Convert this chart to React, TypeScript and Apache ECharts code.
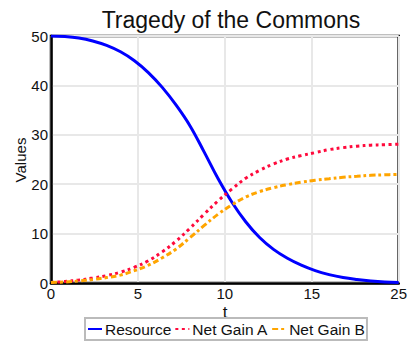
import React, { useEffect, useRef } from "react";
import * as echarts from "echarts";

const tValues = [0, 1, 2, 3, 4, 5, 6, 7, 8, 9, 10, 11, 12, 13, 14, 15, 16, 17, 18, 19, 20, 21, 22, 23, 24, 25];
const resource = [50, 49.9, 49.6, 49.0, 48.1, 46.8, 45.0, 42.6, 39.6, 36.0, 31.8, 26.6, 21.2, 16.4, 12.4, 9.2, 6.8, 5.0, 3.6, 2.5, 1.7, 1.1, 0.7, 0.4, 0.2, 0.1];
const netGainA = [0.1, 0.3, 0.6, 1.0, 1.5, 2.2, 3.2, 4.5, 6.3, 8.5, 11.1, 13.9, 16.6, 19.0, 21.2, 22.8, 24.1, 25.1, 25.8, 26.4, 27.0, 27.4, 27.7, 27.9, 28.0, 28.1];
const netGainB = [0.1, 0.2, 0.4, 0.7, 1.1, 1.6, 2.5, 3.6, 5.1, 6.9, 9.2, 11.6, 13.9, 15.8, 17.4, 18.5, 19.3, 19.9, 20.4, 20.8, 21.1, 21.4, 21.6, 21.8, 21.9, 22.0];
const xTickLabels = ["0", "5", "10", "15", "25"];
const seriesNames = ["Resource", "Net Gain A", "Net Gain B"];

const FONT = "Liberation Sans, Arial, sans-serif";

export default function App() {
  const ref = useRef<HTMLDivElement>(null);
  useEffect(() => {
    if (!ref.current) return;
    const chart = echarts.init(ref.current, undefined, { renderer: "svg" });
    const pair = (ys: number[]) => tValues.map((t, i) => [t, ys[i]]);
    chart.setOption({
      animation: false,
      textStyle: { fontFamily: FONT },
      title: {
        text: "Tragedy of the Commons",
        left: 226,
        textAlign: "center",
        top: 3,
        textStyle: { fontSize: 23, fontWeight: "normal", color: "#111", fontFamily: FONT },
      },
      grid: {
        left: 51,
        right: 9,
        top: 36,
        bottom: 58,
        show: true,
        borderColor: "#000",
        borderWidth: 2.5,
        backgroundColor: "#fff",
      },
      xAxis: {
        type: "value",
        min: 0,
        max: 25,
        interval: 6.25,
        axisLine: { show: true, lineStyle: { color: "#000", width: 2.5 } },
        axisTick: { show: false },
        axisLabel: {
          margin: 3,
          fontSize: 15,
          lineHeight: 14,
          color: "#111",
          fontFamily: FONT,
          formatter: (v: number) => xTickLabels[Math.round(v / 6.25)] ?? "",
        },
        splitLine: { show: true, lineStyle: { color: "#e8e8e8", width: 2 } },
      },
      yAxis: {
        type: "value",
        min: 0,
        max: 50,
        interval: 10,
        axisLine: { show: true, lineStyle: { color: "#000", width: 2.5 } },
        axisTick: { show: false },
        axisLabel: { margin: 3, fontSize: 15, color: "#111", fontFamily: FONT },
        splitLine: { show: true, lineStyle: { color: "#e8e8e8", width: 2 } },
      },
      graphic: [
        {
          type: "text",
          x: 20,
          y: 160,
          rotation: Math.PI / 2,
          style: {
            text: "Values",
            fontSize: 15,
            fill: "#111",
            fontFamily: FONT,
            align: "center",
            verticalAlign: "middle",
          },
        },
        {
          type: "text",
          x: 225,
          y: 305,
          style: {
            text: "t",
            fontSize: 17,
            lineHeight: 14,
            fill: "#111",
            fontFamily: FONT,
            align: "center",
            verticalAlign: "top",
          },
        },
      ],
      legend: {
        data: seriesNames,
        left: 85,
        top: 318,
        itemWidth: 14,
        itemHeight: 10,
        itemGap: 3,
        padding: [3, 2],
        borderColor: "#bbb",
        borderWidth: 2,
        backgroundColor: "#fff",
        itemStyle: { opacity: 0 },
        textStyle: { fontSize: 15.5, color: "#111", fontFamily: FONT, padding: [0, 0, 0, -2] },
      },
      series: [
        {
          name: seriesNames[0],
          type: "line",
          data: pair(resource),
          smooth: 0.4,
          showSymbol: false,
          symbol: "none",
          lineStyle: { color: "#0000ff", width: 3, type: "solid" },
          itemStyle: { color: "#0000ff" },
        },
        {
          name: seriesNames[1],
          type: "line",
          data: pair(netGainA),
          smooth: 0.4,
          showSymbol: false,
          symbol: "none",
          lineStyle: { color: "#ff0a3c", width: 3, type: [3, 3.5] },
          itemStyle: { color: "#ff0a3c" },
        },
        {
          name: seriesNames[2],
          type: "line",
          data: pair(netGainB),
          smooth: 0.4,
          showSymbol: false,
          symbol: "none",
          lineStyle: { color: "#ffa500", width: 3, type: [6, 3, 3, 3] },
          itemStyle: { color: "#ffa500" },
        },
      ],
    });
    return () => chart.dispose();
  }, []);
  return <div ref={ref} style={{ width: 410, height: 341, position: "absolute", left: 0, top: 0 }} />;
}
